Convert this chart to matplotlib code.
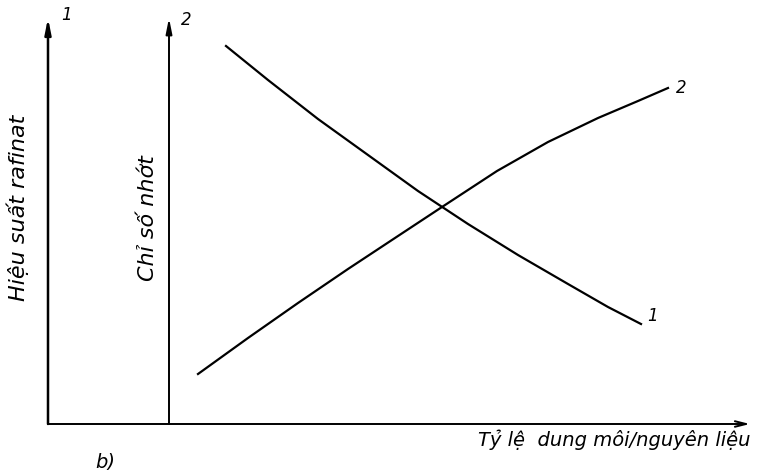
import matplotlib
matplotlib.use("Agg")
import matplotlib.pyplot as plt

# curve 1: hieu suat rafinat (decreasing), curve 2: chi so nhot (increasing)
x1 = [17.8, 22.0, 27.0, 32.0, 37.0, 42.0, 47.0, 52.0, 56.0, 59.3]
y1 = [37.8, 34.4, 30.5, 26.9, 23.3, 20.0, 16.9, 14.0, 11.7, 10.0]
x2 = [15.0, 20.0, 25.0, 30.0, 35.0, 39.4, 44.9, 50.0, 55.0, 59.0, 62.0]
y2 = [5.0, 8.6, 12.1, 15.5, 18.8, 21.7, 25.3, 28.2, 30.6, 32.3, 33.6]

x_label = "Tỷ lệ  dung môi/nguyên liệu"
y1_label = "Hiệu suất rafinat"
y2_label = "Chỉ số nhớt"
axis2_x = 12.1
xmax, ymax = 70.2, 40.6

fig = plt.figure(figsize=(7.79, 4.70), dpi=100)
ax = fig.add_axes([48 / 779, 46 / 470, (750 - 48) / 779, (424 - 18) / 470])
ax.set_xlim(0, xmax)
ax.set_ylim(0, ymax)
ax.axis("off")

ax.plot(x1, y1, color="black", lw=1.6, solid_joinstyle="round")
ax.plot(x2, y2, color="black", lw=1.6, solid_joinstyle="round")

# axes drawn as arrows
arrow_v = dict(arrowstyle="-|>,head_length=0.9,head_width=0.18", color="black", lw=1.8,
               shrinkA=0, shrinkB=0)
ax.annotate("", xy=(0, ymax), xytext=(0, 0), arrowprops=arrow_v, annotation_clip=False)
arrow_v2 = dict(arrow_v, lw=1.4)
ax.annotate("", xy=(axis2_x, ymax), xytext=(axis2_x, 0), arrowprops=arrow_v2,
            annotation_clip=False)
ax.annotate("", xy=(xmax, 0), xytext=(0, 0),
            arrowprops=dict(arrowstyle="->,head_length=0.8,head_width=0.2", color="black",
                            lw=1.4, shrinkA=0, shrinkB=0),
            annotation_clip=False)

tk = dict(fontsize=12, style="italic", color="black", clip_on=False)
ax.text(1.8, 40.9, "1", ha="center", va="center", **tk)
ax.text(13.8, 40.4, "2", ha="center", va="center", **tk)
ax.text(x1[-1] + 1.2, y1[-1] + 0.8, "1", ha="center", va="center", **tk)
ax.text(x2[-1] + 1.3, y2[-1], "2", ha="center", va="center", **tk)

lk = dict(fontsize=14, style="italic", color="black", clip_on=False)
ax.text(-3.0, 21.6, y1_label, rotation=90, ha="center", va="center",
        **dict(lk, fontsize=16))
ax.text(10.0, 20.6, y2_label, rotation=90, ha="center", va="center",
        **dict(lk, fontsize=16))
ax.text(xmax, -1.6, x_label, ha="right", va="center", **lk)
ax.text(5.7, -3.8, "b)", ha="center", va="center", **lk)

fig.savefig("out.png", dpi=100)
